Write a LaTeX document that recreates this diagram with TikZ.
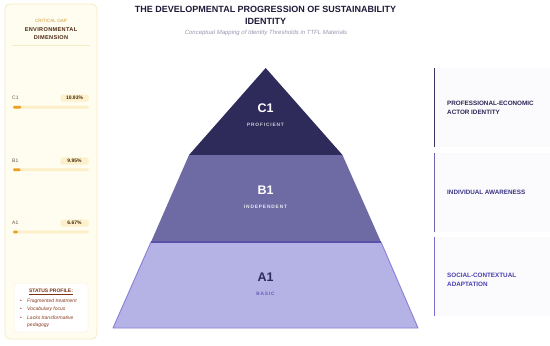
\documentclass[tikz,border=0pt]{standalone}
\usepackage{fontspec}
\setmainfont{Liberation Sans}
\newfontfamily\spfont[LetterSpace=18]{Liberation Sans}
\newfontfamily\hdfont[LetterSpace=6]{Liberation Sans}
\definecolor{navy}{HTML}{1E1B3A}
\definecolor{subgray}{HTML}{9A98B0}
\definecolor{tierC}{HTML}{2E2A5A}
\definecolor{tierB}{HTML}{6E6AA4}
\definecolor{tierA}{HTML}{B5B2E6}
\definecolor{edgeB}{HTML}{5A50A8}
\definecolor{edgeA}{HTML}{8A7FD8}
\definecolor{lineC}{HTML}{3A3560}
\definecolor{lineB}{HTML}{6E68AB}
\definecolor{lineA}{HTML}{7A6FCF}
\definecolor{txtC}{HTML}{2B2755}
\definecolor{txtB}{HTML}{3B3485}
\definecolor{txtA}{HTML}{4A3FAE}
\definecolor{rpanel}{HTML}{FBFBFD}
\definecolor{cream}{HTML}{FFFCF0}
\definecolor{creamedge}{HTML}{F7EBC6}
\definecolor{gapcol}{HTML}{D39A35}
\definecolor{brown}{HTML}{4A2A10}
\definecolor{lblcol}{HTML}{6B5540}
\definecolor{badge}{HTML}{FDF1CC}
\definecolor{track}{HTML}{FCEFC6}
\definecolor{orange}{HTML}{F0A020}
\definecolor{statcol}{HTML}{7A3315}
\definecolor{itcol}{HTML}{8B3A1F}
\begin{document}
\begin{tikzpicture}[x=1pt,y=-1pt,
  titlestyle/.style={font=\fontsize{9}{10}\selectfont\bfseries, text=navy, inner sep=0},
  substyle/.style={font=\fontsize{6}{7}\selectfont\itshape, text=subgray, inner sep=0},
  tierbig/.style={font=\fontsize{12.5}{14}\selectfont\bfseries, inner sep=0},
  tiersmall/.style={font=\spfont\fontsize{4.8}{6}\selectfont\bfseries, inner sep=0},
  rlabel/.style={font=\fontsize{6.3}{9}\selectfont\bfseries, align=left, anchor=west, inner sep=0},
  rowlbl/.style={font=\fontsize{5}{6}\selectfont, text=lblcol, anchor=west, inner sep=0},
  badgestyle/.style={font=\fontsize{5}{6}\selectfont\bfseries, text=brown, fill=badge, rounded corners=1.5pt, minimum width=28pt, minimum height=7pt, inner sep=0},
  bullet/.style={font=\fontsize{5}{6}\selectfont, text=itcol, inner sep=0},
  bullettxt/.style={font=\fontsize{5}{6}\selectfont\itshape, text=itcol, anchor=west, inner sep=0}
]
\useasboundingbox (0,0) rectangle (550,346);
\fill[white] (0,0) rectangle (550,346);

% ---------- left panel ----------
\draw[fill=cream, draw=creamedge, line width=0.8pt, rounded corners=5pt] (5,4) rectangle (97,339);
\node[font=\fontsize{4.6}{5}\selectfont, text=gapcol, inner sep=0] (gap) at (51,21) {CRITICAL GAP};
\node[font=\hdfont\fontsize{5.6}{7.4}\selectfont\bfseries, text=brown, align=center, inner sep=0] (dim) at (51,33.6) {ENVIRONMENTAL\\DIMENSION};
\draw[creamedge, line width=0.8pt] (12,45) -- (90,45);

% rows
\node[rowlbl] (lc) at (12,98) {C1};
\node[badgestyle] (bc) at (74.5,98) {10.93\%};
\fill[track, rounded corners=1.3pt] (13,105.9) rectangle (89,108.7);
\fill[orange, rounded corners=1.3pt] (13,105.9) rectangle (21.3,108.7);

\node[rowlbl] (lb) at (12,161) {B1};
\node[badgestyle] (bb) at (74.5,161) {9.95\%};
\fill[track, rounded corners=1.3pt] (13,168.4) rectangle (89,171.2);
\fill[orange, rounded corners=1.3pt] (13,168.4) rectangle (20.6,171.2);

\node[rowlbl] (la) at (12,223) {A1};
\node[badgestyle] (ba) at (74.5,223) {6.67\%};
\fill[track, rounded corners=1.3pt] (13,230.6) rectangle (89,233.4);
\fill[orange, rounded corners=1.3pt] (13,230.6) rectangle (18.1,233.4);

% status box
\draw[fill=white, draw=creamedge!60, line width=0.5pt, rounded corners=3pt] (14,283) rectangle (88,332);
\node[font=\fontsize{5}{6}\selectfont\bfseries, text=statcol, inner sep=0] (st) at (51,292) {\underline{STATUS PROFILE:}};
\node[bullet] (b1) at (21,301) {•};
\node[bullettxt] (t1) at (27,301) {Fragmented treatment};
\node[bullet] (b2) at (21,309.5) {•};
\node[bullettxt] (t2) at (27,309.5) {Vocabulary focus};
\node[bullet] (b3) at (21,318) {•};
\node[bullettxt] (t3) at (27,318) {Lacks transformative};
\node[bullettxt] (t4) at (27,325) {pedagogy};

% ---------- title ----------
\node[titlestyle] (title1) at (265.5,9) {THE DEVELOPMENTAL PROGRESSION OF SUSTAINABILITY};
\node[titlestyle] (title2) at (265.5,21) {IDENTITY};
\node[substyle] (subtitle) at (266,33) {Conceptual Mapping of Identity Thresholds in TTFL Materials};

% ---------- pyramid ----------
\fill[tierC] (265.7,68) -- (342.5,155) -- (189,155) -- cycle;
\fill[tierB] (189,155) -- (342.5,155) -- (381,242) -- (151,242) -- cycle;
\filldraw[fill=tierA, draw=edgeA, line width=0.9pt, line join=round] (151,242) -- (381,242) -- (418,328) -- (113,328) -- cycle;
\draw[edgeB, line width=1.3pt] (151,242) -- (381,242);

\node[tierbig, text=white] (c1) at (265.5,108) {C1};
\node[tiersmall, text=white!78!tierC] (c1s) at (265.5,125.3) {PROFICIENT};
\node[tierbig, text=white] (b1t) at (265.5,190) {B1};
\node[tiersmall, text=white!85!tierB] (b1s) at (265.5,206.8) {INDEPENDENT};
\node[tierbig, text=tierC] (a1t) at (265.5,277) {A1};
\node[tiersmall, text=txtA!85!white] (a1s) at (265.5,294) {BASIC};

% ---------- right panel ----------
\fill[rpanel] (435,68) rectangle (550,147);
\fill[rpanel] (435,153) rectangle (550,232);
\fill[rpanel] (435,237) rectangle (550,316);
\draw[lineC, line width=1.3pt] (434.5,68) -- (434.5,147);
\draw[lineB, line width=1.3pt] (434.5,153) -- (434.5,232);
\draw[lineA, line width=1.3pt] (434.5,237) -- (434.5,316);

\node[rlabel, text=txtC] (r1) at (447,107.8) {PROFESSIONAL-ECONOMIC\\ACTOR IDENTITY};
\node[rlabel, text=txtB] (r2) at (447,192.3) {INDIVIDUAL AWARENESS};
\node[rlabel, text=txtA] (r3) at (447,280) {SOCIAL-CONTEXTUAL\\ADAPTATION};
\end{tikzpicture}
\end{document}
